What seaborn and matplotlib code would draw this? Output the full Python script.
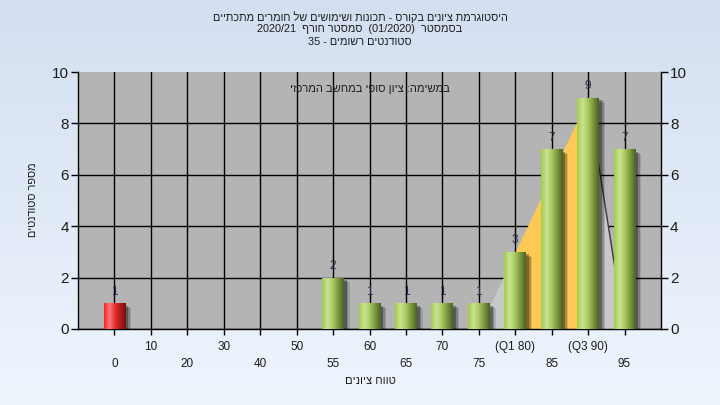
import re
import numpy as np
import matplotlib
matplotlib.use('Agg')
import matplotlib.pyplot as plt
import matplotlib.patheffects as pe
from matplotlib.colors import LinearSegmentedColormap
from matplotlib.transforms import ScaledTranslation
import seaborn as sns

# data
categories = ['0', '10', '20', '30', '40', '50', '55', '60', '65', '70', '75',
              '(Q1 80)', '85', '(Q3 90)', '95']
counts = [1, 0, 0, 0, 0, 0, 2, 1, 1, 1, 1, 3, 7, 9, 7]
failing = ['0']

# min / quartiles / max shape drawn behind the bars
range_cats = ['75', '(Q1 80)', '(Q3 90)', '95']
range_vals = [0, 3, 9, 0]

title_lines = ['היסטוגרמת ציונים בקורס - תכונות ושימושים של חומרים מתכתיים',
               'בסמסטר  (01/2020)  סמסטר חורף  2020/21',
               'סטודנטים רשומים - 35']
note_text = 'במשימה: ציון סופי במחשב המרכזי'
x_title = 'טווח ציונים'
y_title = 'מספר סטודנטים'


def rtl(s):
    """Very small bidi: reverse for display, keep numbers left-to-right."""
    out = s[::-1]
    out = re.sub(r'[0-9A-Za-z][0-9A-Za-z/.]*[0-9A-Za-z]|[0-9A-Za-z]',
                 lambda m: m.group(0)[::-1], out)
    return out.translate(str.maketrans('()', ')('))


sns.set_theme(style='white')
plt.rcParams['font.family'] = ['Liberation Sans', 'DejaVu Sans']

fig = plt.figure(figsize=(7.2, 4.05), dpi=100)

# light blue gradient background
bg = fig.add_axes([0, 0, 1, 1], zorder=-5)
bg.imshow(np.linspace(0, 1, 256).reshape(-1, 1), aspect='auto', extent=[0, 1, 0, 1],
          cmap=LinearSegmentedColormap.from_list('bg', ['#d3dff1', '#eef5fd']))
bg.axis('off')

ax = fig.add_axes([78 / 720, 1 - 329 / 405, 583 / 720, 257 / 405], zorder=1)
ax.set_facecolor('#b4b4b4')

sns.barplot(x=categories, y=counts, order=categories, width=0.6, color='#8fb84a',
            saturation=1, linewidth=0, edgecolor='none', ax=ax, zorder=3)

green = LinearSegmentedColormap.from_list(
    'g', ['#a4cd48', '#cbe394', '#a9c95e', '#7a973f', '#4a6224'])
red = LinearSegmentedColormap.from_list(
    'r', ['#ff2424', '#ff7878', '#e23232', '#ae1c1c', '#7a0e0e'])
grad = np.linspace(0, 1, 64).reshape(1, -1)

shadow = [pe.SimplePatchShadow(offset=(4.2, -3.5), shadow_rgbFace='black', alpha=0.12),
          pe.SimplePatchShadow(offset=(3.2, -2.6), shadow_rgbFace='black', alpha=0.2),
          pe.SimplePatchShadow(offset=(2, -1.8), shadow_rgbFace='black', alpha=0.3),
          pe.Normal()]

for cat, val, bar in zip(categories, counts, list(ax.patches)):
    if val <= 0:
        bar.set_visible(False)
        continue
    x0, w = bar.get_x(), bar.get_width()
    bar.set_linewidth(0)
    bar.set_edgecolor('none')
    bar.set_path_effects(shadow)
    cmap = red if cat in failing else green
    im = ax.imshow(grad, cmap=cmap, aspect='auto', extent=[x0, x0 + w, 0, val], zorder=4)
    im.set_clip_path(bar)
    ax.annotate(str(val), (x0 + w / 2, val), xytext=(0, 4), textcoords='offset points',
                ha='center', va='bottom', fontsize=8.5, color='#26304a', zorder=6)

# quartile shape
rx = [categories.index(c) for c in range_cats]
ax.fill_between(rx[0:2], 0, range_vals[0:2], color='#c8c8c8', lw=0, zorder=2)
ax.fill_between(rx[1:3], 0, range_vals[1:3], color='#ffc955', lw=0, zorder=2)
ax.fill_between(rx[2:4], 0, range_vals[2:4], color='#c8c8c8', lw=0, zorder=2)
ax.plot(rx[2:4], range_vals[2:4], color='#3a3a3a', lw=1, zorder=2.5)

ax.set_xlim(-1, len(categories))
ax.set_ylim(0, 10)
ax.set_yticks(range(0, 11, 2))
ax.set_xticks(range(len(categories)))
ax.set_xticklabels(categories)

ax.grid(True, color='black', lw=1)
ax.set_axisbelow(True)
ax.yaxis.get_gridlines()[-1].set_visible(False)

for side in ['left', 'right', 'bottom']:
    ax.spines[side].set_visible(True)
    ax.spines[side].set_color('black')
    ax.spines[side].set_linewidth(1)
ax.spines['top'].set_visible(False)

ax.tick_params(axis='y', left=True, right=True, labelleft=True, labelright=True,
               direction='out', length=5, width=1, color='black', labelsize=11,
               labelcolor='#1c1c1c', pad=1.5)
ax.tick_params(axis='x', bottom=True, direction='out', length=4, width=1,
               color='black', labelsize=8.5, labelcolor='#1c1c1c', pad=4.5)

# two staggered rows of category labels
shift = ScaledTranslation(0, -17 / 100, fig.dpi_scale_trans)
for i, lab in enumerate(ax.get_xticklabels()):
    if i % 2 == 0:
        lab.set_transform(lab.get_transform() + shift)

ax.set_xlabel('')
ax.set_ylabel('')

ax.text(0.5, 0.935, rtl(note_text), transform=ax.transAxes, ha='center', va='center',
        fontsize=8, color='#1c1c1c', zorder=7)

for k, line in enumerate(title_lines):
    fig.text(0.5, 1 - (17 + 12.5 * k) / 405, rtl(line), ha='center', va='center',
             fontsize=7.8, color='#1c1c1c')

fig.text(370 / 720, 1 - 381 / 405, rtl(x_title), ha='center', va='center',
         fontsize=8, color='#1c1c1c')
fig.text(33 / 720, 1 - 200 / 405, rtl(y_title), ha='center', va='center',
         rotation=90, fontsize=7.8, color='#1c1c1c')

fig.savefig('out.png', dpi=100)
